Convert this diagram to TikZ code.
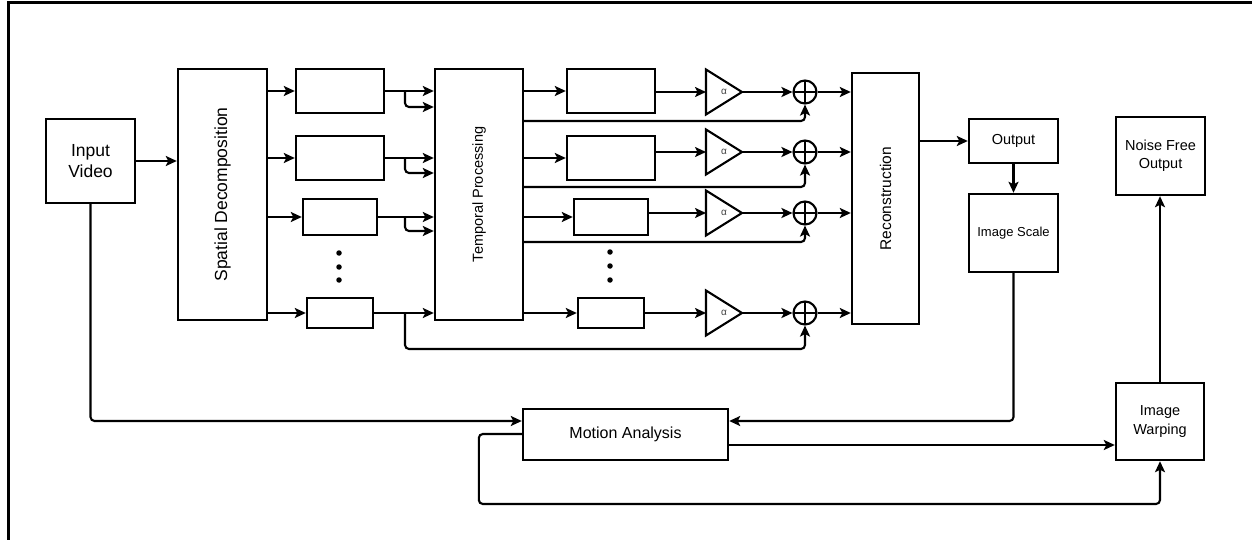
\documentclass[tikz,border=0pt]{standalone}
\usepackage{fontspec}
\setmainfont{Liberation Sans}
\usetikzlibrary{arrows.meta,calc}
\begin{document}
\begin{tikzpicture}[x=1pt,y=-1pt,
  box/.style={draw, line width=2.4pt, inner sep=0pt, align=center},
  ghost/.style={inner sep=0pt, outer sep=0pt},
  arr/.style={line width=2.1pt, rounded corners=4pt, -{Stealth[length=11pt,width=10pt,inset=2.5pt]}},
  oplus/.style={circle, draw, line width=2.1pt, minimum size=23pt, inner sep=0pt,
    path picture={\draw[line width=2.1pt] (path picture bounding box.north) -- (path picture bounding box.south)
      (path picture bounding box.west) -- (path picture bounding box.east);}},
  dotn/.style={circle, fill, inner sep=0pt, minimum size=5.5pt},
  f17/.style={font=\fontsize{17.5}{21}\selectfont},
  f15/.style={font=\fontsize{15.5}{18}\selectfont},
  f14/.style={font=\fontsize{14.5}{18}\selectfont},
  f13/.style={font=\fontsize{13}{16}\selectfont},
  alph/.style={font=\fontsize{10}{10}\selectfont, text=black!75}
]
\useasboundingbox (0,0) rectangle (1252,540);
\draw[line width=3pt] (8,545) -- (8,3) -- (1257,3);

% main boxes
\node[box, minimum width=89pt, minimum height=84pt, f17] (iv) at (90.5,161) {Input\\Video};
\node[box, minimum width=89pt, minimum height=251pt] (sd) at (222.5,194.5) {};
\node[rotate=90, f17] (sdl) at (sd) {Spatial Decomposition};
\node[box, minimum width=88pt, minimum height=251pt] (tp) at (479,194.5) {};
\node[rotate=90, f14] (tpl) at (tp) {Temporal Processing};
\node[box, minimum width=67pt, minimum height=251pt] (rc) at (885.5,198.5) {};
\node[rotate=90, f15] (rcl) at (rc) {Reconstruction};

% column 1 boxes
\node[box, minimum width=88pt, minimum height=44pt] (b11) at (340,91) {};
\node[box, minimum width=88pt, minimum height=44pt] (b21) at (340,158) {};
\node[box, minimum width=74pt, minimum height=36pt] (b31) at (340,217) {};
\node[box, minimum width=66pt, minimum height=30pt] (b41) at (340,313) {};
\node[dotn] (d1) at (339,253) {};
\node[dotn] (d2) at (339,267) {};
\node[dotn] (d3) at (339,280) {};

% column 2 boxes
\node[box, minimum width=88pt, minimum height=44pt] (b12) at (611,91) {};
\node[box, minimum width=88pt, minimum height=44pt] (b22) at (611,158) {};
\node[box, minimum width=74pt, minimum height=36pt] (b32) at (611,217) {};
\node[box, minimum width=66pt, minimum height=30pt] (b42) at (611,313) {};
\node[dotn] (d4) at (610,252) {};
\node[dotn] (d5) at (610,266) {};
\node[dotn] (d6) at (610,280) {};

% triangles (gain alpha) and summing junctions
\foreach \i/\y in {1/92,2/152,3/213,4/313}{
  \node[ghost, minimum width=36pt, minimum height=45pt] (t\i) at (724,\y) {};
  \draw[line width=2.1pt, line join=miter] (t\i.north west) -- (t\i.east) -- (t\i.south west) -- cycle;
  \node[alph] (al\i) at (t\i) {α};
  \node[oplus] (o\i) at (805,\y) {};
}

% right side boxes
\node[box, minimum width=89pt, minimum height=44pt, f14] (out) at (1013.5,141) {Output};
\node[box, minimum width=89pt, minimum height=78pt, f13] (is) at (1013.5,233) {Image Scale};
\node[box, minimum width=89pt, minimum height=78pt, f14] (nf) at (1160.5,156) {Noise Free\\Output};
\node[box, minimum width=205pt, minimum height=51pt, font=\fontsize{16}{19}\selectfont] (ma) at (625.5,434.5) {Motion Analysis};
\node[box, minimum width=88pt, minimum height=77pt, font=\fontsize{14.5}{19}\selectfont] (iw) at (1160,421.5) {Image\\Warping};

% branch points
\coordinate (j1) at (405,91);
\coordinate (j2) at (405,158);
\coordinate (j3) at (405,217);
\coordinate (j4) at (405,313);

% connectors
\draw[arr] (iv.east) -- (sd.west |- iv.east);
\foreach \b in {b11,b21,b31,b41}{
  \draw[arr] (sd.east |- \b.west) -- (\b.west);
  \draw[arr] (\b.east) -- (tp.west |- \b.east);
}
\draw[arr] (j1) |- (tp.west |- 0,107);
\draw[arr] (j2) |- (tp.west |- 0,173);
\draw[arr] (j3) |- (tp.west |- 0,231);

\foreach \b in {b12,b22,b32,b42}{
  \draw[arr] (tp.east |- \b.west) -- (\b.west);
}
\draw[arr] (b12.east |- t1) -- (t1.west);
\draw[arr] (b22.east |- t2) -- (t2.west);
\draw[arr] (b32.east |- t3) -- (t3.west);
\draw[arr] (b42.east |- t4) -- (t4.west);
\foreach \i in {1,2,3,4}{
  \draw[arr] (t\i.east) -- (o\i.west);
  \draw[arr] (o\i.east) -- (rc.west |- o\i.east);
}
\draw[arr] (tp.east |- 0,121) -| (o1.south);
\draw[arr] (tp.east |- 0,187) -| (o2.south);
\draw[arr] (tp.east |- 0,242) -| (o3.south);
\draw[arr] (j4) -- (j4 |- 0,349) -| (o4.south);

\draw[arr] (rc.east |- out.west) -- (out.west);
\draw[arr] (out.south) -- (is.north);
\draw[arr] (is.south) |- (ma.east |- 0,421);
\draw[arr] (iv.south) |- (ma.west |- 0,421);
\draw[arr] (ma.east |- 0,445) -- (iw.west |- 0,445);
\draw[arr] (ma.west |- 0,434) -- ++(-43,0) |- (iw.south |- 0,504) -- (iw.south);
\draw[arr] (iw.north) -- (iw.north |- nf.south);
\end{tikzpicture}
\end{document}
